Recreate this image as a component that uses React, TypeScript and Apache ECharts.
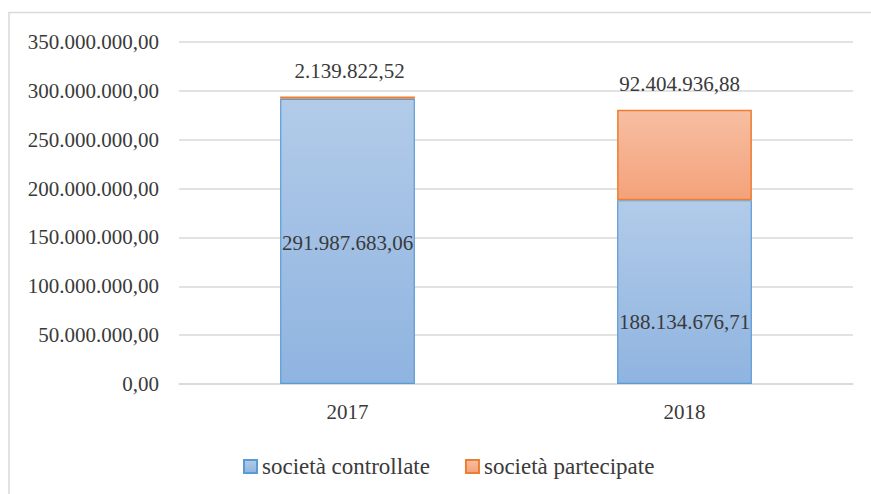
import React, { useEffect, useRef } from "react";
import * as echarts from "echarts";

const categories = ["2017", "2018"];
const controllate = [291987683.06, 188134676.71];
const partecipate = [2139822.52, 92404936.88];
const seriesNames = ["società controllate", "società partecipate"];
const yTicks = { min: 0, max: 350000000, interval: 50000000 };

const FONT = "'Liberation Serif', 'Times New Roman', serif";
const TEXT = "#3a3a3a";

function fmt(v: number): string {
  const s = Math.abs(v).toFixed(2);
  const [i, d] = s.split(".");
  const ii = i.replace(/\B(?=(\d{3})+(?!\d))/g, ".");
  return (v < 0 ? "-" : "") + ii + "," + d;
}

export default function App() {
  const ref = useRef<HTMLDivElement>(null);
  useEffect(() => {
    if (!ref.current) return;
    const chart = echarts.init(ref.current, null, { renderer: "svg" });
    const blueGrad = new echarts.graphic.LinearGradient(0, 0, 0, 1, [
      { offset: 0, color: "#b2cbe9" },
      { offset: 1, color: "#8fb4e0" },
    ]);
    const orangeGrad = new echarts.graphic.LinearGradient(0, 0, 0, 1, [
      { offset: 0, color: "#f7bea2" },
      { offset: 1, color: "#f4a27a" },
    ]);
    const ctrlOffsets = [[0, 2], [0, 30]];
    const partOffsets = [[2, 0], [-5, 0]];
    chart.setOption({
      animation: false,
      textStyle: { fontFamily: FONT },
      graphic: [
        {
          type: "rect",
          shape: { x: 9, y: 12.5, width: 900, height: 600 },
          style: { fill: "none", stroke: "#d9d9d9", lineWidth: 1.5 },
          silent: true,
        },
      ],
      grid: { left: 179, right: 18, top: 42, bottom: 110 },
      legend: {
        top: 450,
        left: 238,
        icon: "rect",
        itemWidth: 13,
        itemHeight: 13,
        itemGap: 35,
        textStyle: { fontFamily: FONT, fontSize: 23, color: TEXT },
        data: seriesNames,
      },
      xAxis: {
        type: "category",
        data: categories,
        axisTick: { show: false },
        axisLine: { lineStyle: { color: "#d9d9d9", width: 1.5 } },
        axisLabel: { fontFamily: FONT, fontSize: 21, color: TEXT, margin: 17 },
      },
      yAxis: {
        type: "value",
        min: yTicks.min,
        max: yTicks.max,
        interval: yTicks.interval,
        axisLine: { show: false },
        axisTick: { show: false },
        splitLine: { lineStyle: { color: "#d9d9d9", width: 1.5 } },
        axisLabel: {
          fontFamily: FONT,
          fontSize: 21,
          color: TEXT,
          margin: 20,
          formatter: (v: number) => fmt(v),
        },
      },
      series: [
        {
          name: seriesNames[0],
          type: "bar",
          stack: "tot",
          barWidth: "40%",
          itemStyle: { color: blueGrad, borderColor: "#5b9bd5", borderWidth: 1.2 },
          data: controllate.map((v, i) => ({
            value: v,
            label: { offset: ctrlOffsets[i] },
          })),
          label: {
            show: true,
            position: "inside",
            fontFamily: FONT,
            fontSize: 21,
            color: TEXT,
            formatter: (p: any) => fmt(p.value),
          },
        },
        {
          name: seriesNames[1],
          type: "bar",
          stack: "tot",
          barWidth: "40%",
          itemStyle: { color: orangeGrad, borderColor: "#ed7d31", borderWidth: 1.5 },
          data: partecipate.map((v, i) => ({
            value: v,
            label: { offset: partOffsets[i] },
          })),
          label: {
            show: true,
            position: "top",
            distance: 15,
            fontFamily: FONT,
            fontSize: 21,
            color: TEXT,
            formatter: (p: any) => fmt(p.value),
          },
        },
      ],
    });
    return () => chart.dispose();
  }, []);
  return (
    <div
      ref={ref}
      style={{ position: "absolute", left: 0, top: 0, width: 871, height: 494, background: "#fff" }}
    />
  );
}
